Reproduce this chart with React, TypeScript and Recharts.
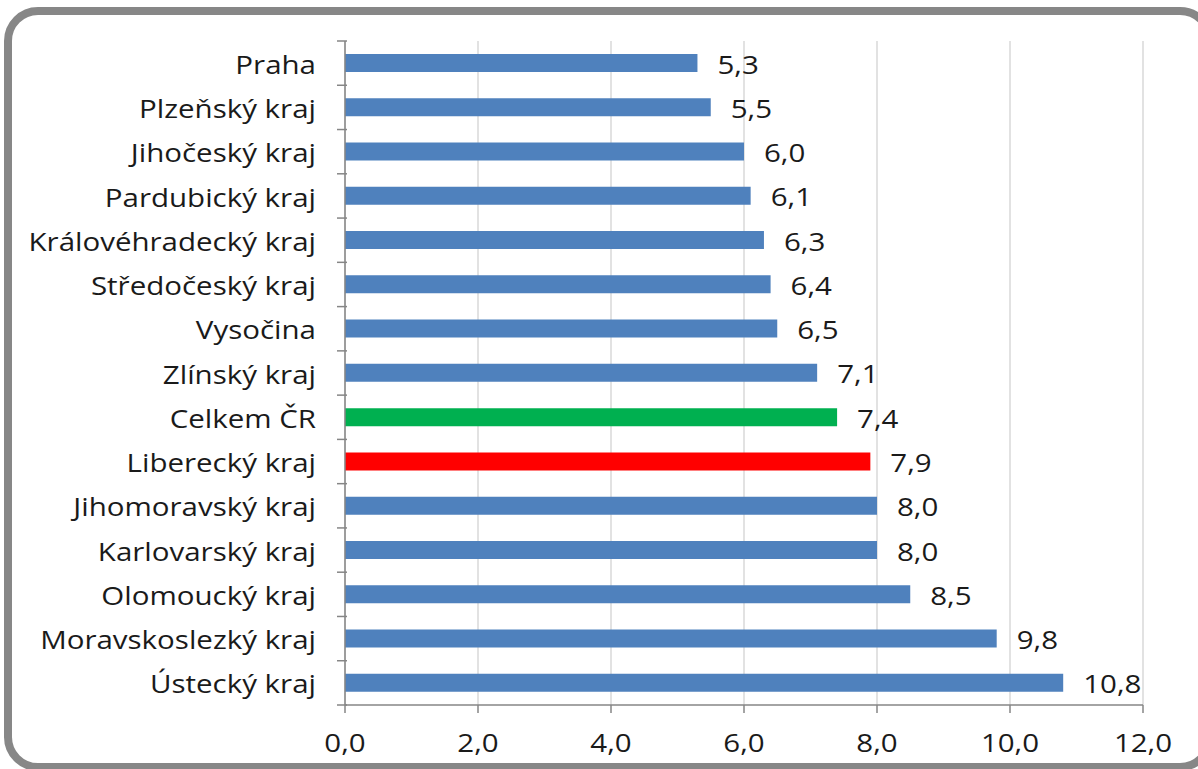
import React from "react";
import { BarChart, Bar, XAxis, YAxis, CartesianGrid, Cell, LabelList } from "recharts";

const categories = [
  "Praha",
  "Plzeňský kraj",
  "Jihočeský kraj",
  "Pardubický kraj",
  "Královéhradecký kraj",
  "Středočeský kraj",
  "Vysočina",
  "Zlínský kraj",
  "Celkem ČR",
  "Liberecký kraj",
  "Jihomoravský kraj",
  "Karlovarský kraj",
  "Olomoucký kraj",
  "Moravskoslezký kraj",
  "Ústecký kraj",
];
const values = [5.3, 5.5, 6.0, 6.1, 6.3, 6.4, 6.5, 7.1, 7.4, 7.9, 8.0, 8.0, 8.5, 9.8, 10.8];
const barColors = [
  "#4F81BD", "#4F81BD", "#4F81BD", "#4F81BD", "#4F81BD", "#4F81BD", "#4F81BD", "#4F81BD",
  "#00B050", "#FF0000",
  "#4F81BD", "#4F81BD", "#4F81BD", "#4F81BD", "#4F81BD",
];
const xTicks = [0, 2, 4, 6, 8, 10, 12];

const data = categories.map((name, i) => ({ name, value: values[i] }));

const FONT = "'Open Sans', sans-serif";
const FS = 25;
const SX = 1.18;
const TEXT = "#1a1a1a";
const AXIS = "#868686";

const fmt = (v: number) => v.toFixed(1).replace(".", ",");

const SText = ({ x, y, anchor, children }: any) => (
  <text
    transform={`translate(${x},${y}) scale(${SX},1)`}
    x={0}
    y={0}
    textAnchor={anchor}
    dominantBaseline="central"
    fontFamily={FONT}
    fontSize={FS}
    fill={TEXT}
  >
    {children}
  </text>
);

const YTick = (props: any) => {
  const { x, y, payload, index } = props;
  const half = 44.27 / 2;
  const ax = Number(x) + 10;
  return (
    <g>
      <SText x={ax - 31} y={y + 1} anchor="end">{payload.value}</SText>
      <line x1={ax - 10} x2={ax} y1={y - half} y2={y - half} stroke={AXIS} strokeWidth={1.5} />
      {index === categories.length - 1 && (
        <line x1={ax - 10} x2={ax} y1={y + half} y2={y + half} stroke={AXIS} strokeWidth={1.5} />
      )}
    </g>
  );
};

const XTick = (props: any) => {
  const { x, y, payload } = props;
  return <SText x={x} y={y + 27} anchor="middle">{fmt(Number(payload.value))}</SText>;
};

const ValueLabel = (props: any) => {
  const { x, y, width, height, value } = props;
  return (
    <SText x={Number(x) + Number(width) + 20} y={Number(y) + Number(height) / 2 + 1} anchor="start">
      {fmt(Number(value))}
    </SText>
  );
};

export default function App() {
  return (
    <div style={{ position: "absolute", left: 0, top: 0, width: 1198, height: 769, overflow: "hidden", background: "#fff" }}>
      <div
        style={{
          position: "absolute",
          left: 4,
          top: 7,
          width: 1210,
          height: 764,
          border: "8px solid #878787",
          borderRadius: 34,
          boxSizing: "border-box",
        }}
      />
      <div style={{ position: "absolute", left: 0, top: 0 }}>
        <BarChart
          width={1198}
          height={769}
          data={data}
          layout="vertical"
          margin={{ top: 41, right: 55, bottom: 0, left: 0 }}
          barCategoryGap={0}
        >
          <CartesianGrid horizontal={false} vertical={true} stroke="#d9d9d9" strokeWidth={1.5} />
          <XAxis
            type="number"
            domain={[0, 12]}
            ticks={xTicks}
            axisLine={{ stroke: AXIS, strokeWidth: 1.5 }}
            tickLine={{ stroke: AXIS, strokeWidth: 1.5 }}
            tickSize={8}
            tick={<XTick />}
            height={64}
            interval={0}
          />
          <YAxis
            type="category"
            dataKey="name"
            width={345}
            axisLine={{ stroke: AXIS, strokeWidth: 1.5 }}
            tickLine={false}
            tick={<YTick />}
            interval={0}
          />
          <Bar dataKey="value" barSize={18} isAnimationActive={false}>
            {data.map((d, i) => (
              <Cell key={d.name} fill={barColors[i]} />
            ))}
            <LabelList dataKey="value" content={<ValueLabel />} />
          </Bar>
        </BarChart>
      </div>
    </div>
  );
}
